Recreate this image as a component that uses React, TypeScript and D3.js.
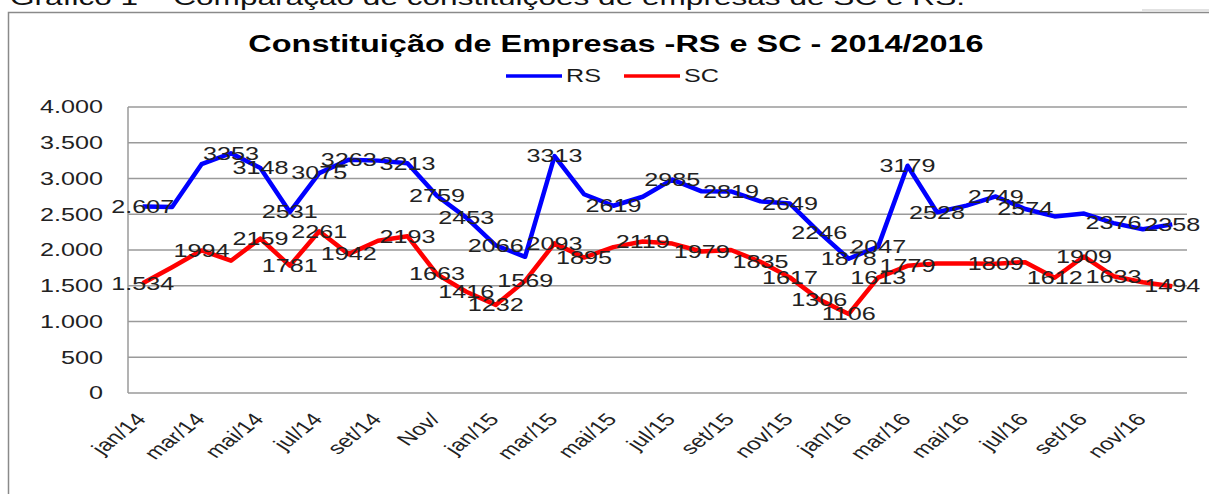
import React from "react";
import * as d3 from "d3";

const months = [
  "jan/14","fev/14","mar/14","abr/14","mai/14","jun/14","jul/14","ago/14","set/14","out/14","Nov/","dez/14",
  "jan/15","fev/15","mar/15","abr/15","mai/15","jun/15","jul/15","ago/15","set/15","out/15","nov/15","dez/15",
  "jan/16","fev/16","mar/16","abr/16","mai/16","jun/16","jul/16","ago/16","set/16","out/16","nov/16","dez/16",
];

const rsValues = [
  2607, 2600, 3200, 3353, 3148, 2531, 3075, 3263, 3250, 3213, 2759, 2453,
  2066, 1905, 3313, 2780, 2619, 2745, 2985, 2820, 2819, 2680, 2649, 2246,
  1878, 2047, 3179, 2528, 2620, 2749, 2574, 2470, 2510, 2376, 2290, 2358,
];

const scValues = [
  1534, 1760, 1994, 1850, 2159, 1781, 2261, 1942, 2130, 2193, 1663, 1416,
  1232, 1569, 2093, 1895, 2040, 2119, 2090, 1979, 2000, 1835, 1617, 1306,
  1106, 1613, 1779, 1810, 1810, 1809, 1830, 1612, 1909, 1633, 1550, 1494,
];

const rsLabeled = [0,3,4,5,6,7,9,10,11,12,14,16,18,20,22,23,24,25,26,27,29,30,33,35];
const scLabeled = [0,2,4,5,6,7,9,10,11,12,13,14,15,17,19,21,22,23,24,25,26,29,31,32,33,35];

const yTicks = [0, 500, 1000, 1500, 2000, 2500, 3000, 3500, 4000];

const series = [
  { name: "RS", color: "#0000ff", values: rsValues, labeled: rsLabeled },
  { name: "SC", color: "#ff0000", values: scValues, labeled: scLabeled },
];

const caption = "Gráfico 1 – Comparação de constituições de empresas de SC e RS.";
const title = "Constituição de Empresas -RS e SC - 2014/2016";

const SX = 1.4;
const FONT = "Liberation Sans, Arial, sans-serif";

const ptFmt = (v: number) => d3.format(",")(v).replace(/,/g, ".");

function T(props: any) {
  const { x, y, children, anchor = "middle", size = 18, weight = "normal", rotate, sx = SX, dy, fill = "#1a1a1a" } = props;
  return (
    <text
      transform={`translate(${x},${y}) scale(${sx},1)${rotate !== undefined ? ` rotate(${rotate})` : ""}`}
      textAnchor={anchor}
      fontSize={size}
      fontWeight={weight}
      fontFamily={FONT}
      fill={fill}
      dy={dy}
    >
      {children}
    </text>
  );
}

export default function App() {
  const W = 1209, H = 494;
  const left = 128, right = 1187, top = 107, bottom = 393;
  const x = d3.scaleBand<string>().domain(months).range([left, right]);
  const y = d3.scaleLinear().domain([0, 4000]).range([bottom, top]);
  const cx = (m: string) => (x(m) as number) + x.bandwidth() / 2;
  const line = d3.line<number>().x((_, i) => cx(months[i])).y((v) => y(v));

  return (
    <svg width={W} height={H} style={{ position: "absolute", left: 0, top: 0, background: "#fff" }}>
      <rect x={0} y={0} width={W} height={H} fill="#fff" />
      <text x={10} y={5} fontSize={22} fontFamily={FONT} fill="#111" textLength={955} lengthAdjust="spacingAndGlyphs">
        {caption}
      </text>
      <rect x={8.5} y={12.5} width={W + 20} height={H + 20} fill="none" stroke="#8a8a8a" strokeWidth={1.5} />
      <line x1={1142} x2={W} y1={10} y2={10} stroke="#e2e2e2" strokeWidth={2} />

      <T x={616} y={52} size={23} weight="bold" sx={1.41} fill="#000">{title}</T>

      {/* legend */}
      {series.map((s, i) => {
        const lx = 506 + i * 118;
        return (
          <g key={s.name}>
            <line x1={lx} x2={lx + 56} y1={76} y2={76} stroke={s.color} strokeWidth={3.5} />
            <T x={lx + 60} y={82} anchor="start" size={18}>{s.name}</T>
          </g>
        );
      })}

      {/* grid */}
      {yTicks.map((t) => (
        <g key={t}>
          <line x1={left} x2={right} y1={y(t)} y2={y(t)} stroke="#9a9a9a" strokeWidth={1.5} />
          <T x={103} y={y(t)} anchor="end" dy="0.35em" size={18} fill="#222">{ptFmt(t)}</T>
        </g>
      ))}
      <line x1={left} x2={left} y1={top} y2={bottom} stroke="#9a9a9a" strokeWidth={1.5} />

      {/* x labels */}
      {months.map((m, i) =>
        i % 2 === 0 ? (
          <T key={m} x={cx(m) + 4.5} y={420} anchor="end" rotate={-48} size={17.5} fill="#222">{m}</T>
        ) : null
      )}

      {/* lines */}
      {series.map((s) => (
        <path key={s.name} d={line(s.values) || ""} fill="none" stroke={s.color} strokeWidth={4.5} strokeLinejoin="round" />
      ))}

      {/* data labels */}
      {series.map((s) =>
        s.labeled.map((i) => (
          <T key={s.name + i} x={cx(months[i])} y={y(s.values[i])} dy="0.35em" size={18} fill="#222">
            {i === 0 ? ptFmt(s.values[i]) : String(s.values[i])}
          </T>
        ))
      )}
    </svg>
  );
}
